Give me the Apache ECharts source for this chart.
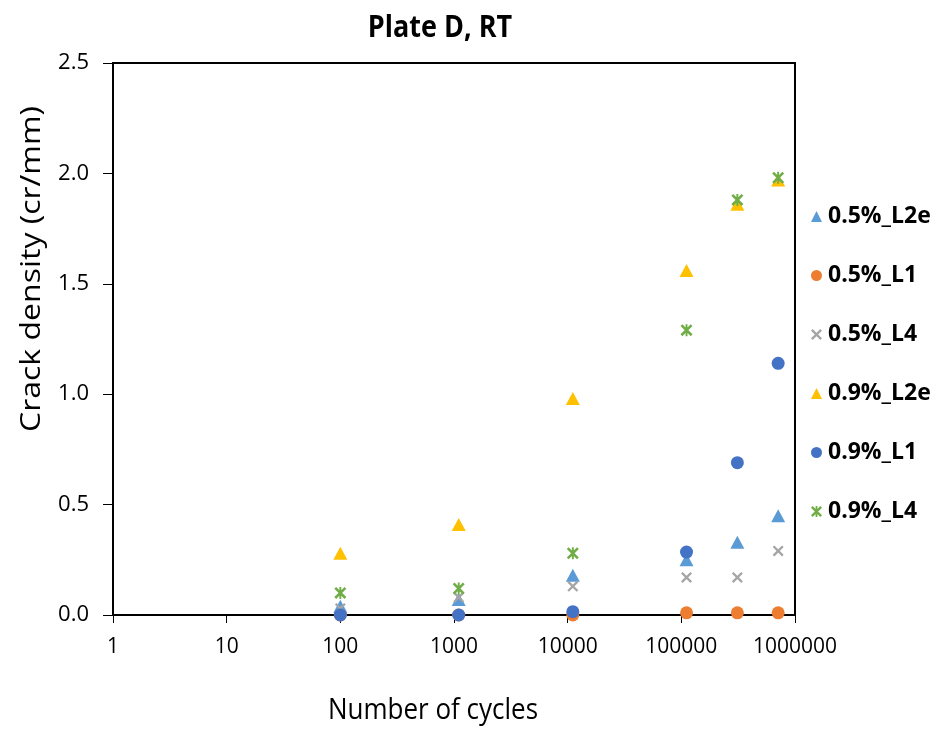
<!DOCTYPE html>
<html>
<head>
<meta charset="utf-8">
<script src="https://cdn.jsdelivr.net/npm/echarts@6/dist/echarts.min.js"></script>
<style>
  html, body { margin: 0; padding: 0; background: #fff; }
  #main { width: 950px; height: 729px; }
</style>
</head>
<body>
<div id="main"></div>
<script>
// cumulative cycles at each inspection
var cycles = [100, 1100, 11100, 111100, 311100, 711100];
var xTicks = [1, 10, 100, 1000, 10000, 100000, 1000000];
var yTicks = [0, 0.5, 1.0, 1.5, 2.0, 2.5];

var names = ['0.5%_L2e', '0.5%_L1', '0.5%_L4', '0.9%_L2e', '0.9%_L1', '0.9%_L4'];
// crack density (cr/mm)
var d05_L2e = [0.04, 0.07, 0.18, 0.25, 0.33, 0.45];
var d05_L1  = [0, 0, 0, 0.01, 0.01, 0.01];
var d05_L4  = [0.03, 0.08, 0.13, 0.17, 0.17, 0.29];
var d09_L2e = [0.28, 0.41, 0.98, 1.56, 1.86, 1.97];
var d09_L1  = [0, 0, 0.015, 0.285, 0.69, 1.14];
var d09_L4  = [0.10, 0.12, 0.28, 1.29, 1.88, 1.98];

var colors = ['#5B9BD5', '#ED7D31', '#A5A5A5', '#FFC000', '#4472C4', '#70AD47'];

var xMark = 'path://M1.5,0L10,8.5L8.5,10L0,1.5ZM8.5,0L10,1.5L1.5,10L0,8.5Z';
var starMark = 'path://M1.5,0L10,8.5L8.5,10L0,1.5ZM8.5,0L10,1.5L1.5,10L0,8.5ZM4.2,0L5.8,0L5.8,10L4.2,10Z';

function pts(ys) {
  return cycles.map(function (c, i) { return [c, ys[i]]; });
}

var chart = echarts.init(document.getElementById('main'));
var font = '"Open Sans", "Noto Sans", sans-serif';

function sc(name, ys, color, symbol, size) {
  return {
    name: name,
    type: 'scatter',
    data: pts(ys),
    symbol: symbol,
    symbolSize: size,
    itemStyle: { color: color, opacity: 1 },
    emphasis: { disabled: true }
  };
}

chart.setOption({
  animation: false,
  color: colors,
  grid: {
    left: 113, right: 155, top: 63, bottom: 114,
    show: true, borderColor: '#000', borderWidth: 2,
    containLabel: false
  },
  legend: {
    orient: 'vertical',
    left: 806,
    top: 200,
    itemGap: 36,
    itemWidth: 11,
    itemHeight: 11,
    data: names,
    textStyle: {
      fontFamily: font, fontSize: 23, fontWeight: 'bold', color: '#000', lineHeight: 23,
      padding: [0, 0, 0, 1]
    }
  },
  xAxis: {
    type: 'log',
    logBase: 10,
    min: 1,
    max: 1000000,
    splitLine: { show: false },
    axisLine: { lineStyle: { color: '#000', width: 2 } },
    axisTick: { length: 8, lineStyle: { color: '#000', width: 1 } },
    axisLabel: {
      margin: 22,
      fontFamily: font, fontSize: 21, color: '#000',
      formatter: function (v) { return String(Math.round(v)); }
    }
  },
  yAxis: {
    type: 'value',
    min: 0,
    max: 2.5,
    interval: 0.5,
    splitLine: { show: false },
    axisLine: { show: true, lineStyle: { color: '#000', width: 2 } },
    axisTick: { show: true, length: 10, lineStyle: { color: '#000', width: 1 } },
    axisLabel: {
      margin: 24,
      fontFamily: font, fontSize: 22, color: '#000',
      formatter: function (v) { return v.toFixed(1); }
    }
  },
  graphic: [
    {
      type: 'text', x: 440, y: 29, scaleY: 1.1,
      style: { text: 'Plate D, RT', fontFamily: font, fontSize: 27, fontWeight: 'bold',
               fill: '#000', align: 'center', verticalAlign: 'middle' }
    },
    {
      type: 'text', x: 433, y: 711, scaleY: 1.1,
      style: { text: 'Number of cycles', fontFamily: font, fontSize: 26,
               fill: '#000', align: 'center', verticalAlign: 'middle' }
    },
    {
      type: 'text', x: 32, y: 269, rotation: Math.PI / 2, scaleY: 0.85,
      style: { text: 'Crack density (cr/mm)', fontFamily: font, fontSize: 32,
               fill: '#000', align: 'center', verticalAlign: 'middle' }
    }
  ],
  series: [
    sc(names[0], d05_L2e, colors[0], 'triangle', [14, 13]),
    sc(names[1], d05_L1, colors[1], 'circle', 13),
    sc(names[2], d05_L4, colors[2], xMark, 11),
    sc(names[3], d09_L2e, colors[3], 'triangle', [14, 13]),
    sc(names[4], d09_L1, colors[4], 'circle', 13),
    sc(names[5], d09_L4, colors[5], starMark, 12)
  ]
});
</script>
</body>
</html>
